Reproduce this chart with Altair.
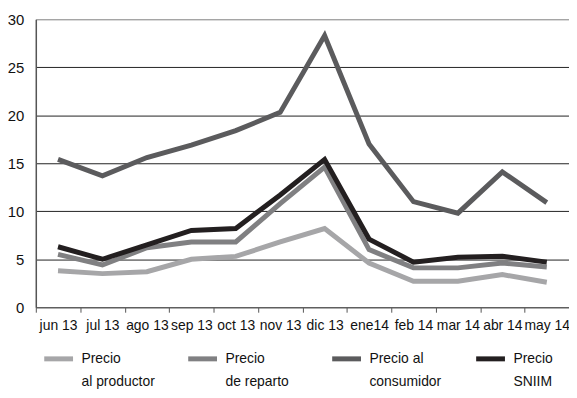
import altair as alt
import pandas as pd

months = ["jun 13", "jul 13", "ago 13", "sep 13", "oct 13", "nov 13",
          "dic 13", "ene14", "feb 14", "mar 14", "abr 14", "may 14"]
productor = [3.8, 3.5, 3.7, 5.0, 5.3, 6.8, 8.2, 4.6, 2.7, 2.7, 3.4, 2.6]
reparto = [5.5, 4.4, 6.2, 6.8, 6.8, 10.8, 14.6, 6.0, 4.1, 4.1, 4.6, 4.2]
consumidor = [15.4, 13.7, 15.6, 16.9, 18.4, 20.3, 28.3, 17.0, 11.0, 9.8, 14.1, 10.9]
sniim = [6.3, 5.0, 6.5, 8.0, 8.2, 11.7, 15.4, 7.1, 4.7, 5.2, 5.3, 4.7]

series_names = ["Precio|al productor", "Precio|de reparto",
                "Precio al|consumidor", "Precio|SNIIM"]
series_colors = ["#a6a6a8", "#808082", "#5b5b5d", "#231f20"]
series_values = [productor, reparto, consumidor, sniim]

rows = []
for name, vals in zip(series_names, series_values):
    for m, v in zip(months, vals):
        rows.append({"mes": m, "serie": name, "valor": v})
df = pd.DataFrame(rows)

FONT = "Liberation Sans"
W = 537
H = 290
half = W / len(months) / 2

chart = alt.Chart(df).mark_line(strokeWidth=5, strokeJoin="miter").encode(
    x=alt.X("mes:O", sort=months, title=None,
            scale=alt.Scale(type="point", padding=0.5),
            axis=alt.Axis(labelAngle=0, tickOffset=-half, labelOffset=half,
                          ticks=True, tickSize=5, tickColor="#555", tickWidth=1,
                          domainColor="#666", domainWidth=1.2,
                          labelFont=FONT, labelFontSize=14, labelColor="#111",
                          labelPadding=6, labelOverlap=False, grid=False)),
    y=alt.Y("valor:Q", title=None,
            scale=alt.Scale(domain=[0, 30], nice=False),
            axis=alt.Axis(values=[0, 5, 10, 15, 20, 25, 30], ticks=False,
                          labelPadding=12, labelFont=FONT, labelFontSize=15,
                          labelColor="#111", domainColor="#555", domainWidth=1.5,
                          grid=True,
                          gridColor=alt.condition("datum.value == 30",
                                                  alt.value("#8c8c8c"),
                                                  alt.value("#222")),
                          gridWidth=1)),
    color=alt.Color("serie:N", sort=series_names, title=None,
                    scale=alt.Scale(domain=series_names, range=series_colors),
                    legend=alt.Legend(orient="none", legendX=6, legendY=325,
                                      direction="horizontal", columns=4,
                                      columnPadding=23, gridAlign="all",
                                      symbolType="stroke",
                                      symbolSize=841, symbolStrokeWidth=5,
                                      labelExpr="split(datum.label, '|')",
                                      labelFont=FONT, labelFontSize=14,
                                      labelColor="#111", labelOffset=6,
                                      labelLimit=200, padding=0)),
    order=alt.Order("serie:N"),
).properties(
    width=W, height=H,
    autosize=alt.AutoSizeParams(type="none"),
    padding={"left": 28, "top": 10, "right": 0, "bottom": 82},
).configure_view(
    stroke="#8c8c8c", strokeWidth=2
).configure(
    background="white",
    style={"guide-label": {"lineHeight": 23}},
)

chart.save("out.html", embed_options={"renderer": "svg", "actions": False})
